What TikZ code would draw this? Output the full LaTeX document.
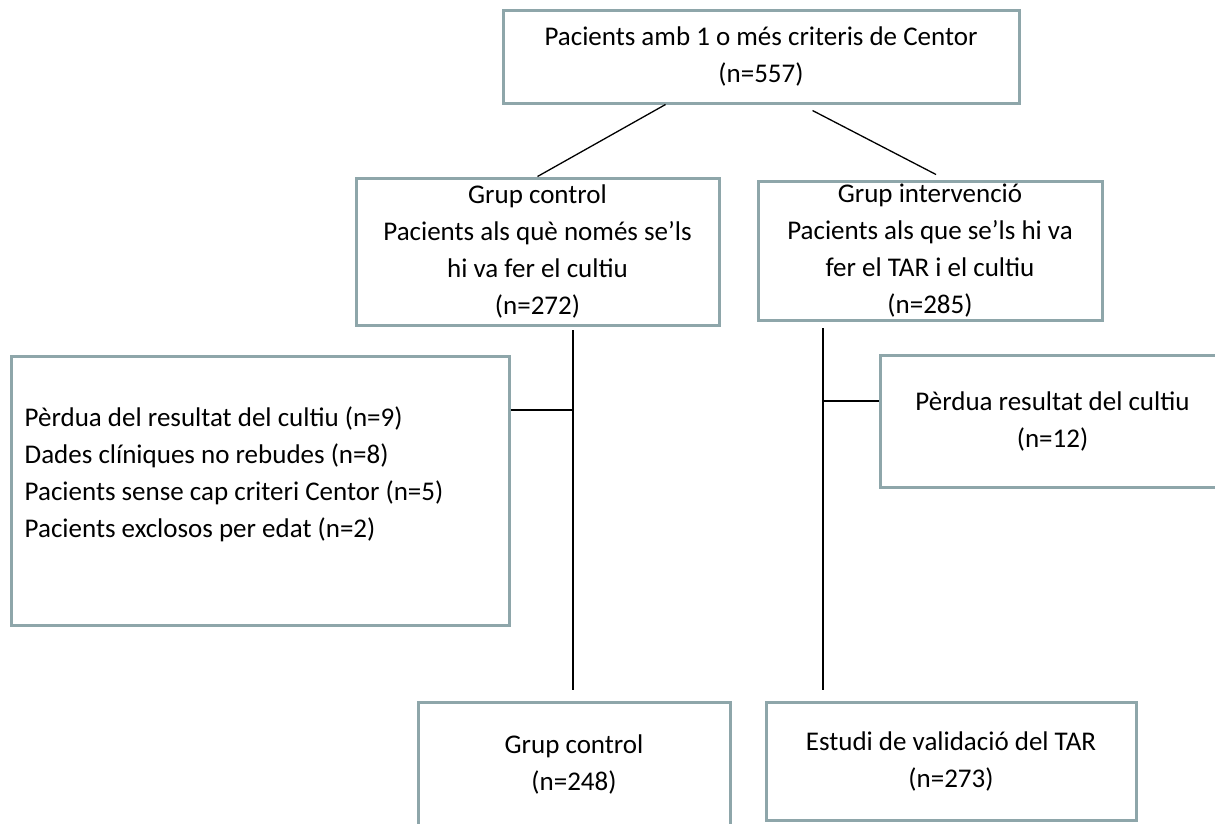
\documentclass[tikz,border=0pt]{standalone}
\usepackage{fontspec}
\setmainfont{Carlito}
\usetikzlibrary{positioning}
\definecolor{boxgray}{HTML}{8EA6AA}

\begin{document}
\begin{tikzpicture}[
    x=1pt, y=-1pt,
    every node/.style={font=\fontsize{27}{37}\selectfont},
    box/.style={draw=boxgray, line width=3pt, align=center, inner sep=0pt},
    link/.style={line width=1.3pt}
  ]
  \useasboundingbox (0,0) rectangle (1215,823);

  \node[box, minimum width=516pt, minimum height=93pt] (all) at (761,56.5) {Pacients amb 1 o més criteris de Centor\\(n=557)};

  \node[box, minimum width=363pt, minimum height=147pt] (ctl) at (537.5,251.5) {Grup control\\Pacients als què només se’ls\\hi va fer el cultiu\\(n=272)};
  \node[box, minimum width=344pt, minimum height=139pt] (itv) at (930,250.5) {Grup intervenció\\Pacients als que se’ls hi va\\fer el TAR i el cultiu\\(n=285)};

  \node[box, minimum width=498pt, minimum height=269pt] (drop) at (260,490.5) {};
  \node[align=left, inner sep=0pt, right=15pt of drop.west, yshift=16pt] (droptext) {Pèrdua del resultat del cultiu (n=9)\\Dades clíniques no rebudes (n=8)\\Pacients sense cap criteri Centor (n=5)\\Pacients exclosos per edat (n=2)};

  \node[box, minimum width=345pt, minimum height=132pt] (lossR) at (1052.5,421) {Pèrdua resultat del cultiu\\(n=12)};

  \node[box, minimum width=312pt, minimum height=124pt] (finCtl) at (574,764) {Grup control\\(n=248)};
  \node[box, minimum width=370pt, minimum height=118pt] (finTar) at (951,761) {Estudi de validació del TAR\\(n=273)};

  % free ends of the two vertical lines
  \coordinate (ctlTop) at (573,330);
  \coordinate (ctlJoin) at (573,410);
  \coordinate (ctlEnd) at (573,690);
  \coordinate (itvTop) at (823,328);
  \coordinate (itvJoin) at (823,401);
  \coordinate (itvEnd) at (823,690);

  \draw[link] ([xshift=164pt]all.south west) -- (ctl.north);
  \draw[link] ([xshift=311pt,yshift=-6pt]all.south west) -- ([xshift=6pt,yshift=5pt]itv.north);

  \draw[link] (ctlTop) -- (ctlEnd);
  \draw[link] (drop.east |- ctlJoin) -- (ctlJoin);
  \draw[link] (itvTop) -- (itvEnd);
  \draw[link] (itvJoin) -- (lossR.west |- itvJoin);

\end{tikzpicture}
\end{document}
